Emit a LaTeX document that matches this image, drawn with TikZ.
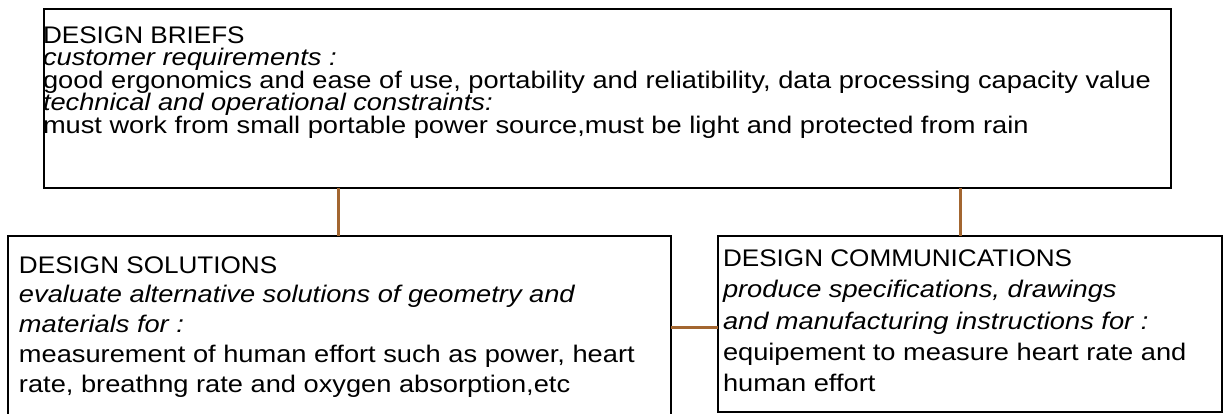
\documentclass[tikz,border=0pt]{standalone}
\usepackage{fontspec}
\setmainfont{Liberation Sans}[FakeStretch=1.135]
\newfontfamily\headfont{Liberation Sans}[FakeStretch=1.088]
\definecolor{conn}{RGB}{163,102,48}
\setlength{\lineskiplimit}{-100pt}
\setlength{\lineskip}{0pt}
\begin{document}
\begin{tikzpicture}[x=1pt,y=-1pt,
  box/.style={draw=black, line width=1.6pt, inner sep=0pt, outer sep=0pt, anchor=north west, fill=white},
  txt/.style={inner sep=0pt, outer sep=0pt, anchor=north west, align=left},
  link/.style={draw=conn, line width=3pt}]
\useasboundingbox (0,0) rectangle (1223,414);
\clip (0,0) rectangle (1223,414);
\coordinate (xa) at (338,0);
\coordinate (xb) at (960,0);
\coordinate (yc) at (0,327);
\node[box, minimum width=1127pt, minimum height=179pt] (brief) at (44,9) {};
\node[box, minimum width=663pt, minimum height=200pt] (sol) at (8,236) {};
\node[box, minimum width=504pt, minimum height=176pt] (com) at (718,236) {};
\draw[link] (brief.south -| xa) -- (sol.north -| xa);
\draw[link] (brief.south -| xb) -- (com.north -| xb);
\draw[link] (sol.east |- yc) -- (com.west |- yc);
\node[txt, font={\fontsize{24}{22.5}\selectfont}] (briefT) at (43,23.3)
  {\rule{0pt}{20pt}{\headfont DESIGN BRIEFS}\\
   \textit{customer requirements :}\\
   good ergonomics and ease of use, portability and reliatibility, data processing capacity value\\
   \textit{technical and operational constraints:}\\
   must work from small portable power source,must be light and protected from rain};
\node[txt, font={\fontsize{24}{29.8}\selectfont}] (solT) at (19,253)
  {\rule{0pt}{20pt}{\headfont DESIGN SOLUTIONS}\\
   \textit{evaluate alternative solutions of geometry and}\\
   \textit{materials for :}\\
   measurement of human effort such as power, heart\\
   rate, breathng rate and oxygen absorption,etc};
\node[txt, font={\fontsize{24}{31.2}\selectfont}] (comT) at (723,246.7)
  {\rule{0pt}{20pt}{\headfont DESIGN COMMUNICATIONS}\\
   \textit{produce specifications, drawings}\\
   \textit{and manufacturing instructions for :}\\
   equipement to measure heart rate and\\
   human effort};
\end{tikzpicture}
\end{document}
